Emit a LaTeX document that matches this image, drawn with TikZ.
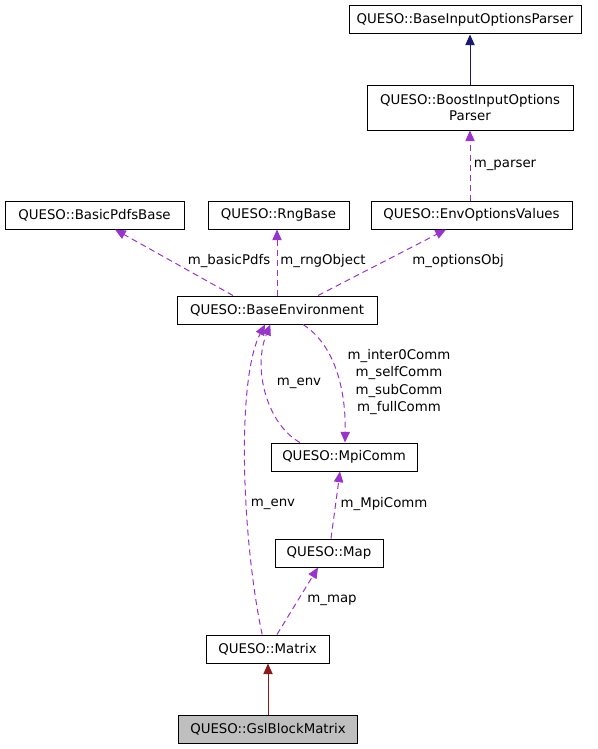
\documentclass[tikz,border=0pt]{standalone}
\usepackage{fontspec}
\setmainfont{DejaVu Sans}
\usetikzlibrary{arrows.meta, positioning}
\definecolor{miembro}{HTML}{9A32CD}
\definecolor{herencia}{HTML}{191970}
\definecolor{privada}{HTML}{8B1A1A}
\tikzset{
	>={Triangle[length=8pt,width=7pt]}, % Puntas de flecha rellenas
	clase/.style={draw, line width=0.75pt, minimum height=21pt, inner sep=2pt, font=\fontsize{10}{12}\selectfont}, % Cajas de las clases
	uso/.style={->, miembro, line width=0.75pt, dash pattern=on 4.5pt off 3pt}, % Relaciones de uso
	hereda/.style={->, line width=0.75pt}, % Relaciones de herencia
	etiqueta/.style={text=black, inner sep=0pt, align=center, font=\fontsize{10}{13}\selectfont} % Texto de los arcos
}

\begin{document}
\begin{tikzpicture}[x=0.75pt, y=-0.75pt]
	\useasboundingbox (0,0) rectangle (597,749);
	\node[clase, minimum width=174pt] (bip) at (465,20) {QUESO::BaseInputOptionsParser};
	\node[clase, minimum width=154.5pt, minimum height=33pt, align=center] (boost) at (470,108) {QUESO::BoostInputOptions\\Parser};
	\node[clase, minimum width=134.25pt] (pdfs) at (94.5,215) {QUESO::BasicPdfsBase};
	\node[clase, minimum width=105.75pt] (rng) at (278.5,215) {QUESO::RngBase};
	\node[clase, minimum width=150.75pt] (envopt) at (471.5,215) {QUESO::EnvOptionsValues};
	\node[clase, minimum width=150pt] (env) at (277,310) {QUESO::BaseEnvironment};
	\node[clase, minimum width=109.5pt] (mpi) at (344,457) {QUESO::MpiComm};
	\node[clase, minimum width=81pt] (map) at (329,553) {QUESO::Map};
	\node[clase, minimum width=92.25pt] (matrix) at (267.5,649) {QUESO::Matrix};
	\node[clase, minimum width=134.25pt, fill={rgb,255:red,191;green,191;blue,191}] (gsl) at (268,729) {QUESO::GslBlockMatrix};

	\draw[hereda, herencia] (boost.north) -- (bip.south -| boost.north);
	\draw[uso] (envopt.north -| boost.south) -- (boost.south)
		node[etiqueta] at (505,165) {m\_parser};
	\draw[uso] ([xshift=-33pt]env.north) -- ([xshift=15.4pt]pdfs.south)
		node[etiqueta] at (229,261) {m\_basicPdfs};
	\draw[uso] (env.north) -- (rng.south -| env.north)
		node[etiqueta] at (323,261) {m\_rngObject};
	\draw[uso] ([xshift=30.75pt]env.north) -- ([xshift=-19.1pt]envopt.south)
		node[etiqueta] at (458,261) {m\_optionsObj};
	\draw[uso] ([xshift=-33pt]mpi.north) .. controls (268,425) and (252,370) .. ([xshift=-5pt]env.south)
		node[etiqueta] at (299,383) {m\_env};
	\draw[uso] ([xshift=19.5pt]env.south) .. controls (335,345) and (346,390) .. ([xshift=0.75pt]mpi.north)
		node[etiqueta] at (399,382) {m\_inter0Comm\\m\_selfComm\\m\_subComm\\m\_fullComm};
	\draw[uso] ([xshift=1.5pt]map.north) -- ([xshift=-3pt]mpi.south)
		node[etiqueta] at (384,504) {m\_MpiComm};
	\draw[uso] ([xshift=-4pt]matrix.north) .. controls (242,540) and (236,380) .. ([xshift=-9pt]env.south)
		node[etiqueta] at (273,504) {m\_env};
	\draw[uso] ([xshift=7.1pt]matrix.north) -- ([xshift=-8.25pt]map.south)
		node[etiqueta] at (332,600) {m\_map};
	\draw[hereda, privada] (gsl.north) -- (matrix.south -| gsl.north);
\end{tikzpicture}
\end{document}
